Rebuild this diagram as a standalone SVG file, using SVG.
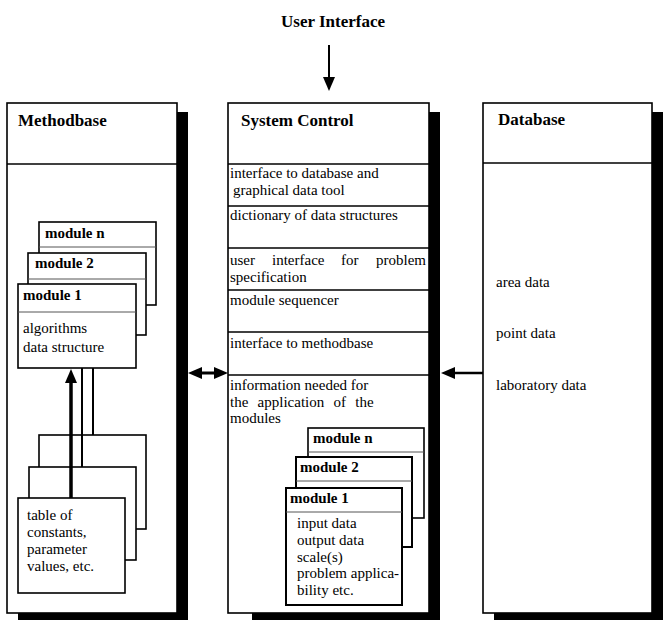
<svg xmlns="http://www.w3.org/2000/svg" width="663" height="620" viewBox="0 0 663 620">
<style>
text{font-family:"Liberation Serif","Times New Roman",serif;font-size:15px;fill:#000}
.t{font-size:17px;font-weight:bold}
.b{font-weight:bold}
.box{fill:#fff;stroke:#000;stroke-width:1.6}
.sh{fill:#000}
.div{stroke:#000;stroke-width:1.3;fill:none}
.mod{fill:#fff;stroke:#000;stroke-width:1.6}
.mdiv{stroke:#555;stroke-width:1;fill:none}
.ln{stroke:#000;fill:none}
</style>
<defs>
<marker id="ah" markerUnits="userSpaceOnUse" markerWidth="16" markerHeight="14" refX="6" refY="7" orient="auto-start-reverse">
<path d="M0,1 L14,7 L0,13 z" fill="#000"/>
</marker>
</defs>

<g id="user-interface">
<text class="t" x="333" y="27" text-anchor="middle">User Interface</text>
</g>

<g id="methodbase">
<rect class="sh" x="18" y="112" width="170" height="508"/>
<rect class="box" x="7" y="103" width="170" height="510"/>
<line class="div" x1="7" y1="164" x2="177" y2="164"/>
<text class="t" x="18" y="126">Methodbase</text>
</g>

<g id="mb-module-n">
<rect class="mod" x="39" y="222" width="117" height="83"/>
<line class="mdiv" x1="39" y1="247" x2="156" y2="247"/>
<text class="b" x="45" y="238">module n</text>
</g>
<g id="mb-module-2">
<rect class="mod" x="28" y="253" width="118" height="82"/>
<line class="mdiv" x1="28" y1="279" x2="146" y2="279"/>
<text class="b" x="35" y="268">module 2</text>
</g>
<g id="mb-module-1">
<rect class="mod" x="18" y="284" width="118" height="84"/>
<line class="mdiv" x1="18" y1="312" x2="136" y2="312"/>
<text class="b" x="23" y="300">module 1</text>
<text x="23" y="333">algorithms</text>
<text x="23" y="352">data structure</text>
</g>

<g id="mb-table-3">
<rect class="mod" x="39" y="435" width="107" height="94"/>
</g>
<g id="mb-table-2">
<rect class="mod" x="29" y="467" width="107" height="93"/>
</g>
<g id="mb-table-1">
<rect class="mod" x="18" y="498" width="107" height="95"/>
<text x="27" y="520">table of</text>
<text x="27" y="537">constants,</text>
<text x="27" y="554">parameter</text>
<text x="27" y="571">values, etc.</text>
</g>

<g id="system-control">
<rect class="sh" x="252" y="112" width="188" height="508"/>
<rect class="box" x="228" y="103" width="201" height="510"/>
<line class="div" x1="228" y1="164" x2="429" y2="164"/>
<line class="div" x1="228" y1="206" x2="429" y2="206"/>
<line class="div" x1="228" y1="248" x2="429" y2="248"/>
<line class="div" x1="228" y1="290" x2="429" y2="290"/>
<line class="div" x1="228" y1="332" x2="429" y2="332"/>
<line class="div" x1="228" y1="375" x2="429" y2="375"/>
<text class="t" x="241" y="126">System Control</text>
<text x="230" y="178">interface to database and</text>
<text x="233" y="195">graphical data tool</text>
<text x="230" y="220">dictionary of data structures</text>
<text x="230" y="265">user</text>
<text x="272" y="265">interface</text>
<text x="341" y="265">for</text>
<text x="426" y="265" text-anchor="end">problem</text>
<text x="230" y="282">specification</text>
<text x="230" y="305">module sequencer</text>
<text x="230" y="348">interface to methodbase</text>
<text x="230" y="390">information needed for</text>
<text x="230" y="407" word-spacing="5.5">the application of the</text>
<text x="230" y="423">modules</text>
</g>

<g id="sc-module-n">
<rect class="mod" x="308" y="428" width="116" height="90"/>
<line class="mdiv" x1="308" y1="452" x2="424" y2="452"/>
<text class="b" x="313" y="443">module n</text>
</g>
<g id="sc-module-2">
<rect class="mod" x="296" y="457" width="116" height="90" style="stroke-width:2"/>
<line class="mdiv" x1="296" y1="481" x2="412" y2="481"/>
<text class="b" x="300" y="472">module 2</text>
</g>
<g id="sc-module-1">
<rect class="mod" x="286" y="488" width="116" height="117" style="stroke-width:2"/>
<line class="mdiv" x1="286" y1="512" x2="402" y2="512"/>
<text class="b" x="290" y="503">module 1</text>
<text x="297" y="528">input data</text>
<text x="297" y="545">output data</text>
<text x="297" y="562">scale(s)</text>
<text x="297" y="578">problem applica-</text>
<text x="297" y="595">bility etc.</text>
</g>

<g id="database">
<rect class="sh" x="494" y="112" width="169" height="508"/>
<rect class="box" x="483" y="103" width="169" height="510"/>
<line class="div" x1="483" y1="163" x2="652" y2="163"/>
<text class="t" x="498" y="125">Database</text>
<text x="496" y="287">area data</text>
<text x="496" y="338">point data</text>
<text x="496" y="390">laboratory data</text>
</g>

<g id="connectors">
<line class="ln" x1="329" y1="45" x2="329" y2="83" stroke-width="2" marker-end="url(#ah)"/>
<line class="ln" x1="196" y1="373" x2="220" y2="373" stroke-width="3" marker-start="url(#ah)" marker-end="url(#ah)"/>
<line class="ln" x1="483" y1="373" x2="449" y2="373" stroke-width="2.5" marker-end="url(#ah)"/>
<line class="ln" x1="71" y1="498" x2="71" y2="377" stroke-width="3.5" marker-end="url(#ah)"/>
<line class="ln" x1="82" y1="467" x2="82" y2="368" stroke-width="2"/>
<line class="ln" x1="93" y1="435" x2="93" y2="368" stroke-width="2"/>
</g>
</svg>
